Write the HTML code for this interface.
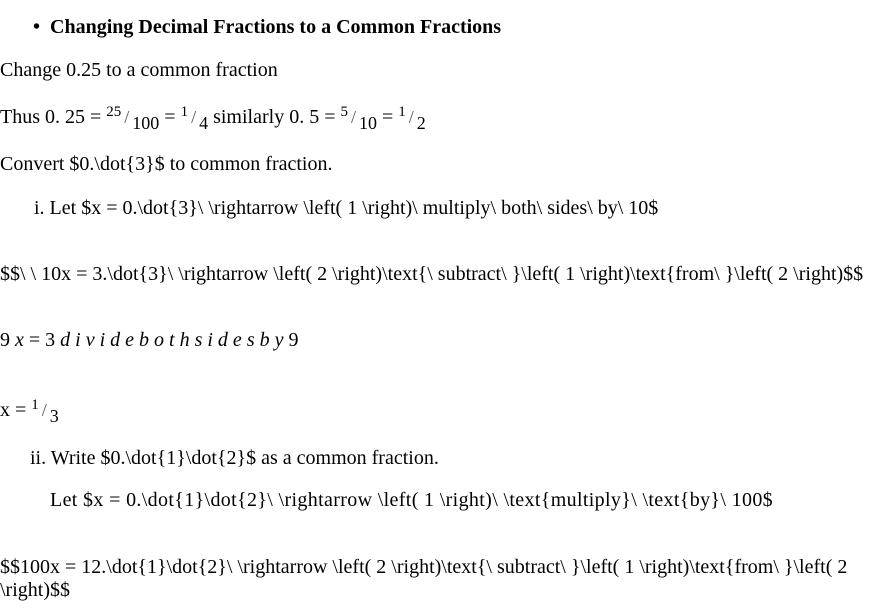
<!DOCTYPE html>
<html><head><meta charset="utf-8"><style>
body{margin:0;width:889px;height:613px;background:#fff;position:relative;overflow:hidden;font-family:"Liberation Serif",serif;font-size:20px;color:#000}
.l{position:absolute;white-space:nowrap;line-height:22px}
sup{font-size:15px;vertical-align:7px;line-height:0}
sub{font-size:18px;vertical-align:-6px;line-height:0}
.sl{color:#555;font-size:18px;margin:0 3px}
i{letter-spacing:5px}
</style></head><body>
<div class="l" style="left:33px;top:16px;font-weight:bold">•&nbsp;&nbsp;Changing Decimal Fractions to a Common Fractions</div>
<div class="l" style="left:0;top:59px">Change 0.25 to a common fraction</div>
<div class="l" style="left:0;top:106px">Thus 0. 25 = <sup>25</sup><span class="sl">/</span><sub>100</sub> = <sup>1</sup><span class="sl">/</span><sub>4</sub> similarly 0. 5 = <sup>5</sup><span class="sl">/</span><sub>10</sub> = <sup>1</sup><span class="sl">/</span><sub>2</sub></div>
<div class="l" style="left:0;top:153px">Convert $0.\dot{3}$ to common fraction.</div>
<div class="l" style="left:34px;top:197px">i. Let $x = 0.\dot{3}\ \rightarrow \left( 1 \right)\ multiply\ both\ sides\ by\ 10$</div>
<div class="l" style="left:0;top:263px">$$\ \ 10x = 3.\dot{3}\ \rightarrow \left( 2 \right)\text{\ subtract\ }\left( 1 \right)\text{from\ }\left( 2 \right)$$</div>
<div class="l" style="left:0;top:329px">9 <i>x</i>= 3 <i>dividebothsidesby</i>9</div>
<div class="l" style="left:0;top:399px">x = <sup>1</sup><span class="sl">/</span><sub>3</sub></div>
<div class="l" style="left:30px;top:447px">ii. Write $0.\dot{1}\dot{2}$ as a common fraction.</div>
<div class="l" style="left:50px;top:489px;letter-spacing:0.35px">Let $x = 0.\dot{1}\dot{2}\ \rightarrow \left( 1 \right)\ \text{multiply}\ \text{by}\ 100$</div>
<div class="l" style="left:0;top:556px">$$100x = 12.\dot{1}\dot{2}\ \rightarrow \left( 2 \right)\text{\ subtract\ }\left( 1 \right)\text{from\ }\left( 2</div>
<div class="l" style="left:0;top:579px">\right)$$</div>
</body></html>
